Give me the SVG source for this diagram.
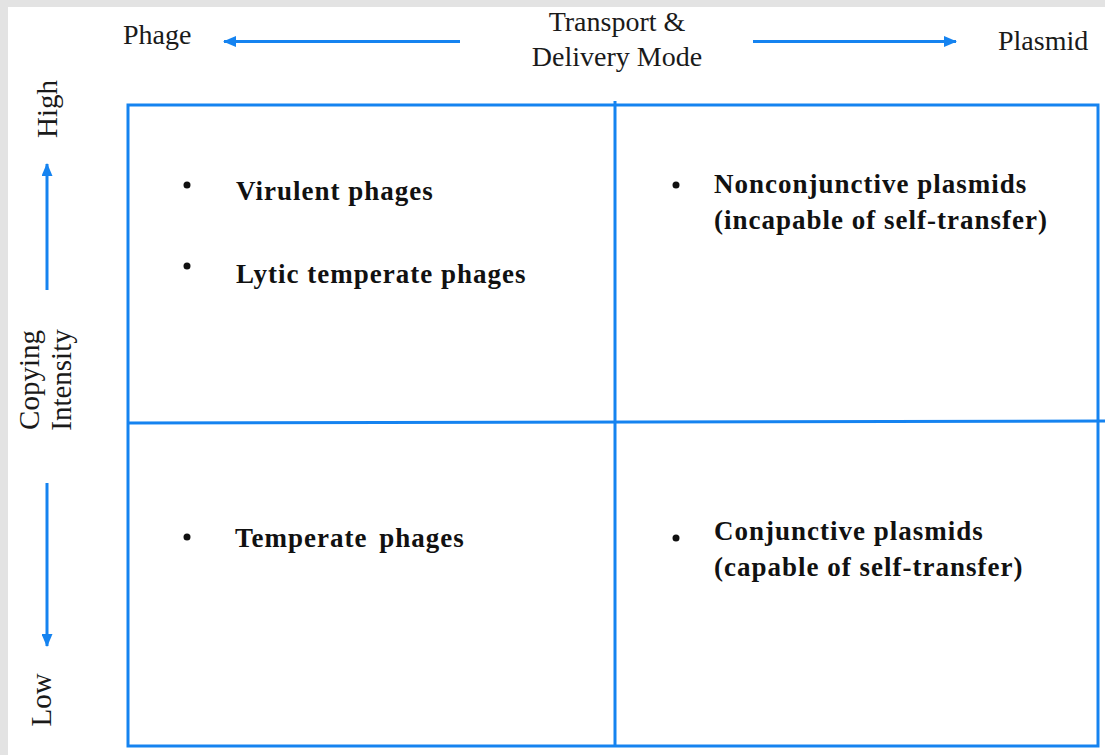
<svg xmlns="http://www.w3.org/2000/svg" width="1105" height="755" viewBox="0 0 1105 755">
  <style>
    .axis { font-family: "Liberation Serif", "Times New Roman", serif; font-size: 28px; fill: #1a1a1a; }
    .vaxis { font-family: "Liberation Serif", "Times New Roman", serif; font-size: 29px; fill: #1a1a1a; text-anchor: middle; }
    .item { font-family: "Liberation Serif", "Times New Roman", serif; font-size: 27px; font-weight: bold; letter-spacing: 1px; fill: #111; }
    .grid { stroke: #1583f0; stroke-width: 3; fill: none; }
    .arrow { stroke: #1583f0; stroke-width: 3; fill: none; }
    .dot { fill: #111; }
  </style>
  <defs>
    <marker id="head" viewBox="0 0 13 11" refX="12" refY="5.5" markerWidth="13" markerHeight="11" markerUnits="userSpaceOnUse" orient="auto">
      <path d="M0,0 L13,5.5 L0,11 Z" fill="#1583f0"/>
    </marker>
  </defs>

  <!-- page frame -->
  <rect x="0" y="0" width="1105" height="755" fill="#e3e3e3"/>
  <rect x="8" y="7" width="1097" height="748" fill="#ffffff"/>

  <!-- axis labels -->
  <g id="axis-labels">
    <text class="axis" x="123" y="44">Phage</text>
    <text class="axis" x="617" y="31" text-anchor="middle">Transport &amp;</text>
    <text class="axis" x="617" y="66" text-anchor="middle">Delivery Mode</text>
    <text class="axis" x="998" y="50">Plasmid</text>
    <text class="vaxis" transform="translate(57,109) rotate(-90)">High</text>
    <text class="vaxis" transform="translate(39,380) rotate(-90)">Copying</text>
    <text class="vaxis" transform="translate(71,380) rotate(-90)">Intensity</text>
    <text class="vaxis" transform="translate(51,700) rotate(-90)">Low</text>
  </g>

  <!-- axis arrows -->
  <g id="connectors">
    <line class="arrow" x1="460" y1="41.5" x2="224" y2="41.5" marker-end="url(#head)"/>
    <line class="arrow" x1="753" y1="41.5" x2="956" y2="41.5" marker-end="url(#head)"/>
    <line class="arrow" x1="47" y1="290" x2="47" y2="164" marker-end="url(#head)"/>
    <line class="arrow" x1="47" y1="483" x2="47" y2="646" marker-end="url(#head)"/>
  </g>

  <!-- quadrant grid -->
  <g id="grid">
    <rect class="grid" x="128" y="105" width="970" height="641"/>
    <line class="grid" x1="615" y1="101" x2="615" y2="746"/>
    <line class="grid" x1="128" y1="423" x2="1105" y2="421"/>
  </g>

  <!-- quadrant contents -->
  <g id="q-high-phage">
    <circle class="dot" cx="187" cy="185" r="3.5"/>
    <text class="item" x="236" y="200">Virulent phages</text>
    <circle class="dot" cx="187" cy="266" r="3.5"/>
    <text class="item" x="236" y="283">Lytic temperate phages</text>
  </g>
  <g id="q-high-plasmid">
    <circle class="dot" cx="676" cy="185" r="3.5"/>
    <text class="item" x="714" y="193">Nonconjunctive plasmids</text>
    <text class="item" x="714" y="229">(incapable of self-transfer)</text>
  </g>
  <g id="q-low-phage">
    <circle class="dot" cx="187" cy="537" r="3.5"/>
    <text class="item" x="235" y="547" word-spacing="4">Temperate phages</text>
  </g>
  <g id="q-low-plasmid">
    <circle class="dot" cx="676" cy="538" r="3.5"/>
    <text class="item" x="714" y="540">Conjunctive plasmids</text>
    <text class="item" x="714" y="576">(capable of self-transfer)</text>
  </g>
</svg>
